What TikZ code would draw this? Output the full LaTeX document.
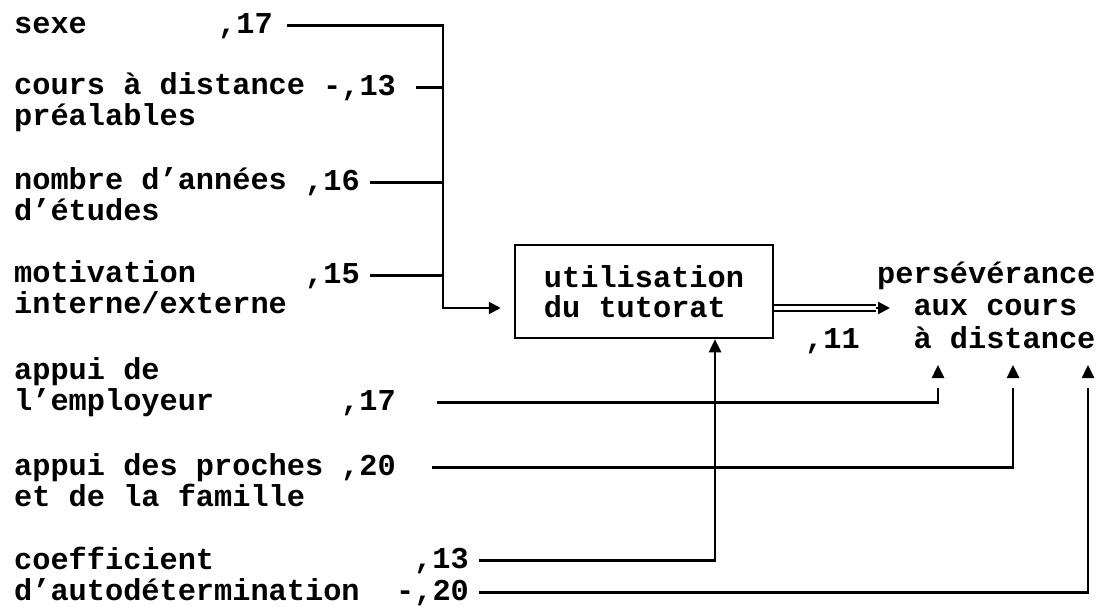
\documentclass[tikz,border=0pt]{standalone}
\usepackage{fontspec}
\setmonofont{Liberation Mono}
\usetikzlibrary{arrows.meta}

\begin{document}
\begin{tikzpicture}[x=1pt,y=-1pt,
  every node/.style={font=\ttfamily\bfseries\fontsize{30.3}{30.5}\selectfont,inner sep=0pt},
  lbl/.style={anchor=base west,align=left},
  wire/.style={line width=2.5pt},
  tipr/.style={-{Triangle[length=12pt,width=12pt]}},
  tipu/.style={-{Triangle[length=13pt,width=12pt]}}]

\useasboundingbox (0,0) rectangle (1101,606);

% Predictors (placed at the baseline of their last line)
\node[lbl] (sx) at (14,33)  {sexe};
\node[lbl] (cd) at (14,125) {cours à distance\\préalables};
\node[lbl] (nb) at (14,220) {nombre d’années\\d’études};
\node[lbl] (mo) at (14,313) {motivation\\interne/externe};
\node[lbl] (em) at (14,410) {appui de\\l’employeur};
\node[lbl] (pr) at (14,506) {appui des proches\\et de la famille};
\node[lbl] (cf) at (14,600) {coefficient\\d’autodétermination};

% Coefficients
\node[lbl] (vsx) at (218,33)  {,17};
\node[lbl] (vcd) at (323,95)  {-,13};
\node[lbl] (vnb) at (305,190) {,16};
\node[lbl] (vmo) at (305,283) {,15};
\node[lbl] (vem) at (341,410) {,17};
\node[lbl] (vpr) at (341,475) {,20};
\node[lbl] (vcf) at (414,568) {,13};
\node[lbl] (vad) at (396,600) {-,20};

% Mediator and outcome
\node[draw,wire,minimum width=258pt,minimum height=93pt,align=left]
  (tut) at (644,291.5) {utilisation\\du tutorat};
\node[lbl] (pers) at (877,348)
  {persévérance\\[2pt]\hspace*{1.2em}aux cours\\[2pt]\hspace*{1.2em}à distance};
\node[lbl] (vtu) at (805,348) {,11};

\coordinate (bus) at (443,308);
\coordinate (tx) at (715,560);
\coordinate (pin) at (876,308);
\coordinate (p1) at (938,378);
\coordinate (p2) at (1013,378);
\coordinate (p3) at (1088,378);

% Paths to tutoring
\draw[wire,tipr] ([xshift=14pt]vsx.east) -| (bus) -- ([xshift=-13pt]tut.west |- bus);
\draw[wire] ([xshift=20pt]vcd.east) -- (vcd.east -| bus);
\draw[wire] ([xshift=10pt]vnb.east) -- (vnb.east -| bus);
\draw[wire] ([xshift=10pt]vmo.east) -- (vmo.east -| bus);
\draw[wire,tipu] ([xshift=10pt]vcf.east) -| (tut.south -| tx);

% Paths to persistence
\draw[line width=2pt,double,double distance=4pt] (tut.east |- pin) -- (pin);
\draw[wire,tipr] (pin) -- ++(14,0);
\draw[wire] ([xshift=41pt]vem.east) -| ([yshift=-10pt]p1);
\draw[wire] ([xshift=36pt]vpr.east) -| ([yshift=-10pt]p2);
\draw[wire] ([xshift=10pt]vad.east) -| ([yshift=-10pt]p3);
\foreach \p in {p1,p2,p3}
  \draw[wire,tipu] (\p) -- ++(0,-13);

\end{tikzpicture}
\end{document}
